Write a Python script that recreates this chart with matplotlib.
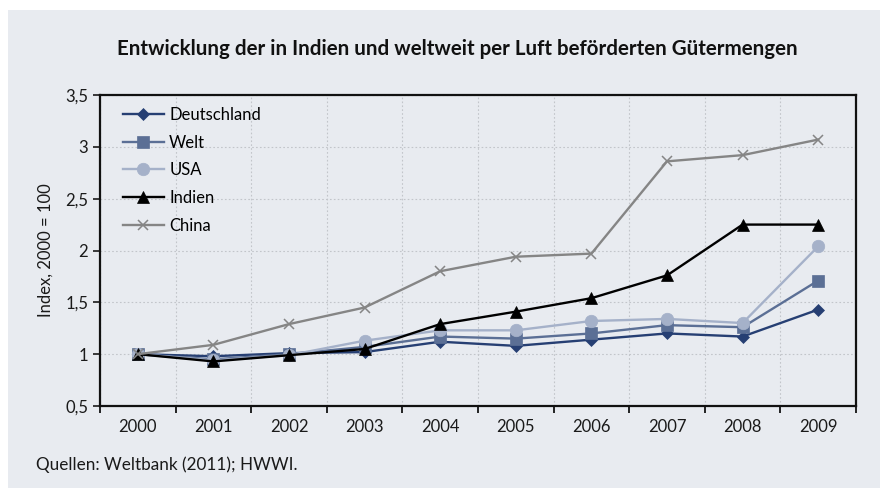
import matplotlib
matplotlib.use("Agg")
import matplotlib.pyplot as plt
from matplotlib.patches import Rectangle
from matplotlib.ticker import FixedLocator, FuncFormatter

plt.rcParams['font.family'] = ['Lato', 'DejaVu Sans']

years = ["2000", "2001", "2002", "2003", "2004", "2005", "2006", "2007", "2008", "2009"]
deutschland = [1.00, 0.98, 1.01, 1.02, 1.12, 1.08, 1.14, 1.20, 1.17, 1.43]
welt        = [1.00, 0.95, 1.00, 1.07, 1.17, 1.15, 1.20, 1.28, 1.26, 1.71]
usa         = [1.00, 0.94, 0.99, 1.13, 1.23, 1.23, 1.32, 1.34, 1.30, 2.04]
indien      = [1.00, 0.93, 0.99, 1.05, 1.29, 1.41, 1.54, 1.76, 2.25, 2.25]
china       = [1.00, 1.09, 1.29, 1.45, 1.80, 1.94, 1.97, 2.86, 2.92, 3.07]
yticks = [0.5, 1.0, 1.5, 2.0, 2.5, 3.0, 3.5]

W, H = 880, 488
fig = plt.figure(figsize=(W / 100, H / 100), dpi=100, facecolor="white")
bg = "#e8ebf0"
fig.patches.append(Rectangle((8 / W, 0), 1 - 8 / W, 1 - 10 / H, transform=fig.transFigure,
                             facecolor=bg, edgecolor="none", zorder=-10))

ax = fig.add_axes([100 / W, 1 - 406 / H, (856 - 100) / W, (406 - 95) / H])
ax.set_zorder(2)
ax.set_facecolor(bg)
x = list(range(len(years)))

series = [
    ("Deutschland", deutschland, "#263f73", "D", 6),
    ("Welt", welt, "#5b6f95", "s", 8),
    ("USA", usa, "#a5b1c9", "o", 9),
    ("Indien", indien, "#000000", "^", 8),
    ("China", china, "#858585", "x", 7),
]
for name, vals, col, mk, ms in series:
    ax.plot(x, vals, color=col, marker=mk, markersize=ms, linewidth=1.7,
            label=name, markeredgewidth=1.1 if mk == "x" else 0.5,
            markeredgecolor=col, zorder=3)

ax.set_xlim(-0.5, len(years) - 0.5)
ax.set_ylim(0.5, 3.5)
ax.yaxis.set_major_locator(FixedLocator(yticks))
ax.yaxis.set_major_formatter(FuncFormatter(lambda v, p: ("%g" % v).replace(".", ",")))

ax.xaxis.set_major_locator(FixedLocator([i + 0.5 for i in range(-1, len(years))]))
ax.xaxis.set_major_formatter(FuncFormatter(lambda v, p: ""))
ax.xaxis.set_minor_locator(FixedLocator(x))
ax.set_xticklabels(years, minor=True)
ax.tick_params(axis="x", which="minor", length=0, labelsize=12, pad=9, colors="#1a1a1a")
ax.tick_params(axis="x", which="major", length=5, width=1.2, direction="out")
ax.tick_params(axis="y", length=5, width=1.2, direction="out", labelsize=12, colors="#1a1a1a")

ax.grid(True, which="major", axis="both", linestyle=(0, (1.5, 2)), color="#c2c5ca", linewidth=0.8)
ax.set_axisbelow(True)
for s in ax.spines.values():
    s.set_linewidth(1.6)
    s.set_color("#111111")

ax.set_ylabel("Index, 2000 = 100", fontsize=12, labelpad=8, color="#1a1a1a")

leg = ax.legend(loc="upper left", frameon=False, fontsize=12, handlelength=2.5,
                handletextpad=0.3, labelspacing=0.7, bbox_to_anchor=(0.01, 1.01))

fig.text(457 / W, 1 - 49 / H, "Entwicklung der in Indien und weltweit per Luft beförderten Gütermengen",
         ha="center", va="center", fontsize=14.8, fontweight="bold", color="#111111")
fig.text(36 / W, 1 - 465 / H, "Quellen: Weltbank (2011); HWWI.", ha="left", va="center",
         fontsize=12.3, color="#1a1a1a")

fig.savefig("out.png", dpi=100, facecolor="white")
